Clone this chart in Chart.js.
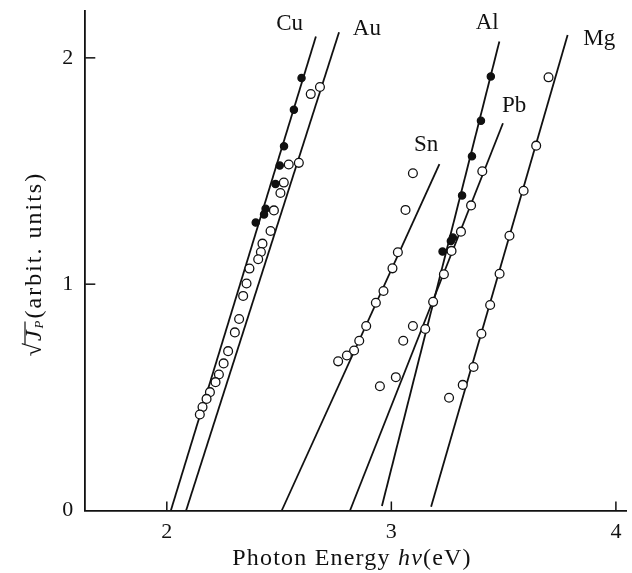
<!DOCTYPE html>
<html>
<head>
<meta charset="utf-8">
<script src="https://cdn.jsdelivr.net/npm/chart.js@4.4.1/dist/chart.umd.min.js"></script>
<style>
  html, body { margin: 0; padding: 0; background: #fff; }
  canvas { display: block; }
</style>
</head>
<body>
<canvas id="fowlerChart" width="632" height="573"></canvas>
<script>
// Tick values
const xTicks = [2, 3, 4];
const yTicks = [0, 1, 2];

// Fitted straight lines (two end points each), photon energy (eV) vs sqrt(Jp)
const cuLine = [[2.018, 0], [2.664, 2.094]];
const auLine = [[2.086, 0], [2.767, 2.113]];
const snLine = [[2.512, 0], [3.214, 1.530]];
const pbLine = [[2.816, 0], [3.497, 1.711]];
const alLine = [[2.958, 0.02], [3.481, 2.072]];
const mgLine = [[3.177, 0.017], [3.785, 2.101]];

// Measured points
const cuPoints = [
  [2.600, 1.911], [2.566, 1.771], [2.522, 1.609], [2.503, 1.524],
  [2.484, 1.443], [2.440, 1.333], [2.433, 1.308], [2.396, 1.272]
];
const auPoints = [
  [2.682, 1.871], [2.641, 1.840], [2.588, 1.536], [2.543, 1.529],
  [2.521, 1.449], [2.506, 1.403], [2.477, 1.326], [2.462, 1.235],
  [2.426, 1.179], [2.419, 1.142], [2.407, 1.110], [2.368, 1.069],
  [2.355, 1.003], [2.340, 0.948], [2.322, 0.846], [2.303, 0.787],
  [2.273, 0.704], [2.253, 0.650], [2.232, 0.601], [2.217, 0.567],
  [2.192, 0.523], [2.177, 0.493], [2.159, 0.457], [2.147, 0.424]
];
const snPoints = [
  [3.096, 1.490], [3.063, 1.328], [3.029, 1.141], [3.005, 1.070],
  [2.965, 0.970], [2.931, 0.918], [2.888, 0.815], [2.857, 0.750],
  [2.834, 0.707], [2.802, 0.685], [2.763, 0.659]
];
const pbPoints = [
  [3.405, 1.499], [3.355, 1.348], [3.310, 1.232], [3.268, 1.147],
  [3.234, 1.044], [3.186, 0.922], [3.151, 0.802], [3.096, 0.815],
  [3.053, 0.750], [3.020, 0.589], [2.949, 0.549]
];
const alPoints = [
  [3.443, 1.918], [3.399, 1.722], [3.359, 1.565], [3.315, 1.392],
  [3.274, 1.206], [3.265, 1.191], [3.228, 1.144]
];
const mgPoints = [
  [3.700, 1.914], [3.645, 1.612], [3.589, 1.413], [3.526, 1.214],
  [3.482, 1.046], [3.440, 0.908], [3.401, 0.781], [3.366, 0.634],
  [3.318, 0.555], [3.257, 0.498]
];

// Metal names placed next to their lines
const curveLabels = [
  { text: 'Cu', x: 2.547, y: 2.150 },
  { text: 'Au', x: 2.891, y: 2.128 },
  { text: 'Al', x: 3.427, y: 2.156 },
  { text: 'Mg', x: 3.926, y: 2.085 },
  { text: 'Pb', x: 3.547, y: 1.787 },
  { text: 'Sn', x: 3.155, y: 1.615 }
];

const SERIF = '"Liberation Serif", "DejaVu Serif", serif';
const toXY = arr => arr.map(p => ({ x: p[0], y: p[1] }));

const lineSet = (label, pts) => ({
  label: label,
  data: toXY(pts),
  showLine: true,
  borderColor: '#111',
  borderWidth: 1.8,
  pointRadius: 0,
  fill: false,
  order: 2
});

const pointSet = (label, pts, filled) => ({
  label: label,
  data: toXY(pts),
  showLine: false,
  pointStyle: 'circle',
  pointRadius: filled ? 3.6 : 4.4,
  pointBorderWidth: 1.3,
  pointBorderColor: '#111',
  pointBackgroundColor: filled ? '#111' : '#fff',
  order: 1
});

// Inward tick marks on both axes
const innerTicks = {
  id: 'innerTicks',
  afterDraw(chart) {
    const { ctx, chartArea, scales } = chart;
    ctx.save();
    ctx.strokeStyle = '#111';
    ctx.lineWidth = 1.5;
    xTicks.forEach(v => {
      const px = scales.x.getPixelForValue(v);
      ctx.beginPath();
      ctx.moveTo(px, chartArea.bottom);
      ctx.lineTo(px, chartArea.bottom - 9);
      ctx.stroke();
    });
    yTicks.forEach(v => {
      if (v === 0) return;
      const py = scales.y.getPixelForValue(v);
      ctx.beginPath();
      ctx.moveTo(chartArea.left, py);
      ctx.lineTo(chartArea.left + 10, py);
      ctx.stroke();
    });
    ctx.restore();
  }
};

// Curve labels + axis titles with mixed italic text
const textLayer = {
  id: 'textLayer',
  afterDraw(chart) {
    const { ctx, chartArea, scales } = chart;
    ctx.save();
    ctx.fillStyle = '#111';
    ctx.font = '23px ' + SERIF;
    ctx.textAlign = 'center';
    ctx.textBaseline = 'middle';
    curveLabels.forEach(l => {
      ctx.fillText(l.text, scales.x.getPixelForValue(l.x), scales.y.getPixelForValue(l.y));
    });

    // x title
    ctx.letterSpacing = '1.2px';
    const xParts = [
      { t: 'Photon Energy ', f: '24px ' + SERIF },
      { t: 'h\u03BD', f: 'italic 24px ' + SERIF },
      { t: '(eV)', f: '24px ' + SERIF }
    ];
    ctx.textAlign = 'left';
    ctx.textBaseline = 'alphabetic';
    let total = 0;
    xParts.forEach(p => { ctx.font = p.f; p.w = ctx.measureText(p.t).width; total += p.w; });
    let cx = 352 - total / 2;
    xParts.forEach(p => { ctx.font = p.f; ctx.fillText(p.t, cx, 565); cx += p.w; });

    // y title, rotated
    ctx.translate(35, 264);
    ctx.rotate(-Math.PI / 2);
    const yParts = [
      { t: '\u221A', f: '24px ' + SERIF, dy: 0 },
      { t: 'J', f: 'italic 24px ' + SERIF, dy: 0 },
      { t: 'P', f: 'italic 13px ' + SERIF, dy: 5 },
      { t: '(arbit. units)', f: '24px ' + SERIF, dy: 0 }
    ];
    ctx.letterSpacing = '2px';
    total = 0;
    yParts.forEach(p => { ctx.font = p.f; p.w = ctx.measureText(p.t).width; total += p.w; });
    let yx = -total / 2;
    const barStart = yx + yParts[0].w - 3;
    const barEnd = barStart + yParts[1].w + yParts[2].w;
    ctx.textBaseline = 'middle';
    yParts.forEach(p => { ctx.font = p.f; ctx.fillText(p.t, yx, p.dy); yx += p.w; });
    ctx.strokeStyle = '#111';
    ctx.lineWidth = 1.2;
    ctx.beginPath();
    ctx.moveTo(barStart, -10);
    ctx.lineTo(barEnd, -10);
    ctx.stroke();
    ctx.restore();
  }
};

new Chart(document.getElementById('fowlerChart'), {
  type: 'scatter',
  data: {
    datasets: [
      lineSet('Cu fit', cuLine),
      lineSet('Au fit', auLine),
      lineSet('Sn fit', snLine),
      lineSet('Pb fit', pbLine),
      lineSet('Al fit', alLine),
      lineSet('Mg fit', mgLine),
      pointSet('Cu', cuPoints, true),
      pointSet('Au', auPoints, false),
      pointSet('Sn', snPoints, false),
      pointSet('Pb', pbPoints, false),
      pointSet('Al', alPoints, true),
      pointSet('Mg', mgPoints, false)
    ]
  },
  options: {
    responsive: false,
    animation: false,
    layout: { padding: { left: 0, right: 6, top: 11, bottom: 0 } },
    plugins: {
      legend: { display: false },
      tooltip: { enabled: false }
    },
    scales: {
      x: {
        type: 'linear',
        min: 1.637,
        max: 4.045,
        afterBuildTicks: s => { s.ticks = xTicks.map(v => ({ value: v })); },
        afterFit: s => {
          s.height = 62.5;
          s.paddingLeft = 0; s.paddingRight = 0;
        },
        grid: { display: false, drawTicks: false },
        border: { display: true, color: '#111', width: 1.8 },
        ticks: {
          color: '#111',
          font: { family: SERIF, size: 22 },
          padding: 9
        }
      },
      y: {
        type: 'linear',
        min: 0,
        max: 2.207,
        afterBuildTicks: s => { s.ticks = yTicks.map(v => ({ value: v })); },
        afterFit: s => {
          s.width = 85.3;
          s.paddingTop = 0; s.paddingBottom = 0;
        },
        grid: { display: false, drawTicks: false },
        border: { display: true, color: '#111', width: 1.8 },
        ticks: {
          color: '#111',
          font: { family: SERIF, size: 22 },
          padding: 12
        }
      }
    }
  },
  plugins: [innerTicks, textLayer]
});
</script>
</body>
</html>
